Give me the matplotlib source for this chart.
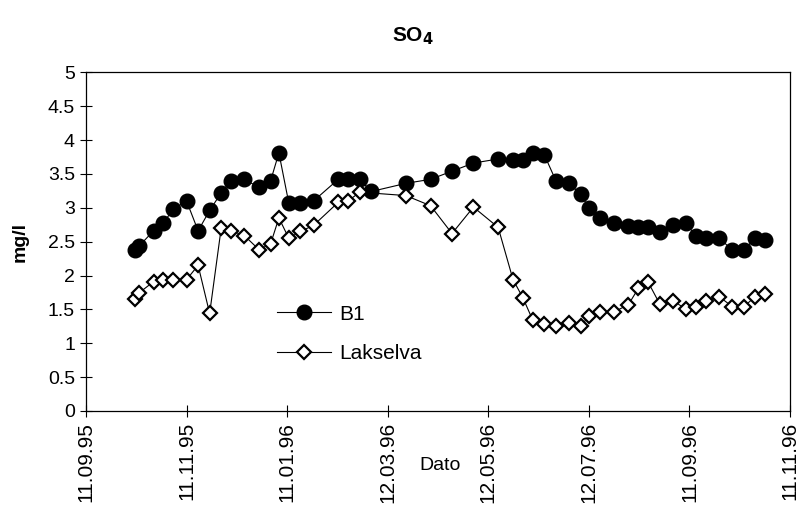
import pandas as pd
import matplotlib
matplotlib.use('Agg')
import matplotlib.pyplot as plt

plt.rcParams['font.family'] = ['Liberation Sans', 'DejaVu Sans']

# prøvedatoer (dd.mm.yy)
dato = ['11.10.95', '13.10.95', '22.10.95', '28.10.95', '03.11.95', '11.11.95',
        '18.11.95', '25.11.95', '02.12.95', '08.12.95', '16.12.95', '25.12.95',
        '01.01.96', '06.01.96', '12.01.96', '19.01.96', '27.01.96', '11.02.96',
        '17.02.96', '24.02.96', '02.03.96', '23.03.96', '07.04.96', '20.04.96',
        '03.05.96', '18.05.96', '27.05.96', '02.06.96', '08.06.96', '15.06.96',
        '22.06.96', '30.06.96', '07.07.96', '12.07.96', '19.07.96', '27.07.96',
        '05.08.96', '11.08.96', '17.08.96', '24.08.96', '01.09.96', '09.09.96',
        '15.09.96', '21.09.96', '29.09.96', '07.10.96', '14.10.96', '21.10.96',
        '27.10.96']

b1 = [2.38, 2.43, 2.66, 2.78, 2.98, 3.10, 2.66, 2.96, 3.22, 3.40, 3.42, 3.30,
      3.40, 3.81, 3.07, 3.07, 3.10, 3.42, 3.42, 3.42, 3.24, 3.36, 3.42, 3.54,
      3.66, 3.72, 3.71, 3.71, 3.81, 3.78, 3.40, 3.36, 3.20, 3.00, 2.85, 2.78,
      2.73, 2.71, 2.71, 2.64, 2.75, 2.77, 2.58, 2.56, 2.56, 2.37, 2.37, 2.56,
      2.52]

# None = ingen prøve
lakselva = [1.65, 1.74, 1.91, 1.94, 1.94, 1.94, 2.15, 1.44, 2.70, 2.66, 2.59, 2.38,
            2.47, 2.85, 2.55, 2.65, 2.74, 3.08, 3.10, 3.23, None, 3.18, 3.03, 2.62,
            3.01, 2.71, 1.94, 1.67, 1.34, 1.29, 1.25, 1.30, 1.25, 1.40, 1.46, 1.46,
            1.57, 1.81, 1.90, 1.58, 1.63, 1.50, 1.54, 1.62, 1.69, 1.54, 1.54, 1.69,
            1.72]

x_ticks = ['11.09.95', '11.11.95', '11.01.96', '12.03.96', '12.05.96',
           '12.07.96', '11.09.96', '11.11.96']
y_ticks = [0, 0.5, 1, 1.5, 2, 2.5, 3, 3.5, 4, 4.5, 5]


def main():
    d = pd.to_datetime(dato, format='%d.%m.%y')
    t = pd.to_datetime(x_ticks, format='%d.%m.%y')
    lak = pd.Series(lakselva, index=d, dtype=float).dropna()

    fig = plt.figure(figsize=(8, 5.14), dpi=100)
    ax = fig.add_axes([0.1075, 0.2004, 0.88, 0.659])

    ax.plot(d, b1, color='black', lw=0.8, marker='o', ms=10.5,
            mfc='black', mec='black', label='B1')
    ax.plot(lak.index, lak.values, color='black', lw=0.8, marker='D', ms=7,
            mfc='white', mec='black', mew=1.6, label='Lakselva')

    ax.set_xlim(t[0], t[-1])
    ax.set_ylim(0, 5)
    ax.set_xticks(t)
    ax.set_xticklabels(x_ticks, rotation=90, fontsize=15)
    ax.set_yticks(y_ticks)
    ax.set_yticklabels([('%g' % v) for v in y_ticks], fontsize=14)
    ax.tick_params(direction='inout', length=8, width=0.8, pad=4)
    for s in ax.spines.values():
        s.set_linewidth(0.9)

    ax.set_ylabel('mg/l', fontsize=14, fontweight='bold', labelpad=14)
    fig.text(0.55, 0.095, 'Dato', fontsize=14, ha='center', va='center')
    fig.text(0.516, 0.93, r'SO$_\mathbf{4}$', fontsize=15, fontweight='bold',
             ha='center', va='center')

    ax.legend(loc='upper left', bbox_to_anchor=(0.3225, 0.444),
              bbox_transform=fig.transFigure, frameon=False, fontsize=15,
              handlelength=2.6, labelspacing=1.0, handletextpad=0.4)

    fig.savefig('out.png', dpi=100)
    plt.close(fig)


if __name__ == '__main__':
    main()
